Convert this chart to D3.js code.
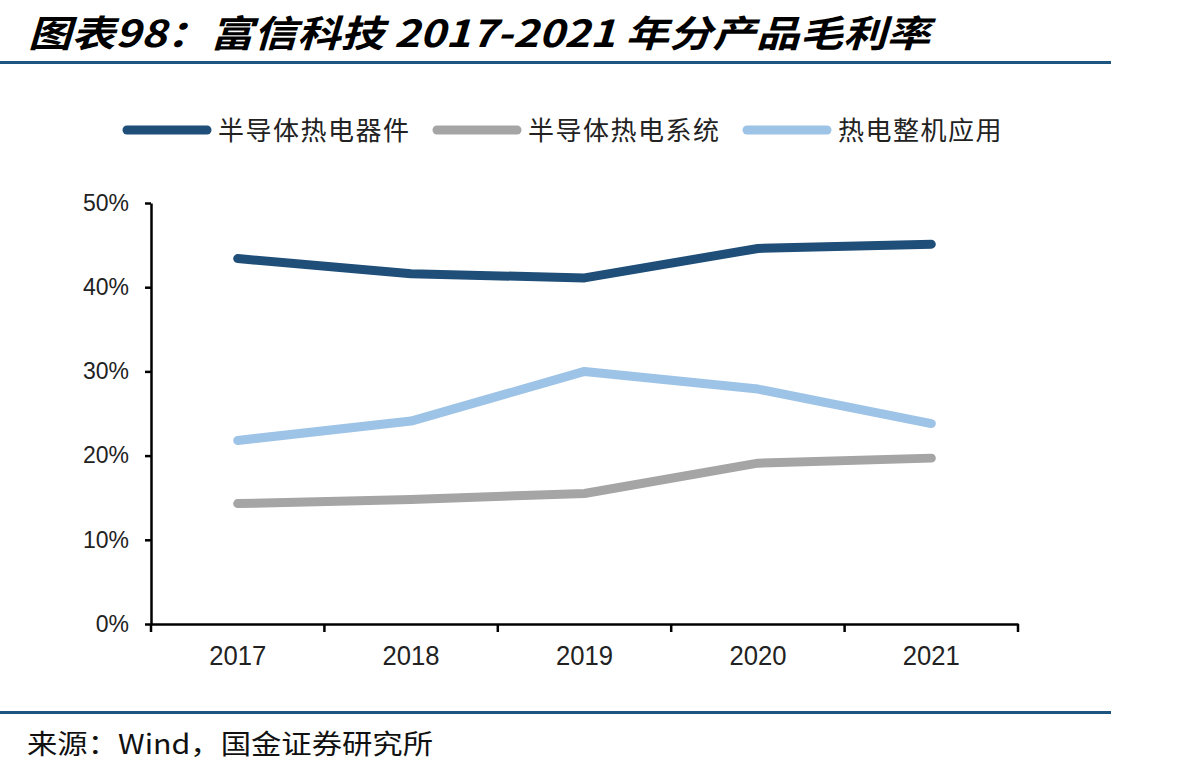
<!DOCTYPE html>
<html>
<head>
<meta charset="utf-8">
<script src="https://cdn.jsdelivr.net/npm/d3@7"></script>
<style>
  body { margin: 0; background: #fff; }
  text { font-family: "Liberation Sans", Arial, sans-serif; }
  .cjk { font-family: "Noto Sans CJK SC", sans-serif; }
  .series { fill: none; stroke-width: 9; stroke-linejoin: round; stroke-linecap: round; }
</style>
</head>
<body>
<div id="chart"></div>
<script>
var years = ["2017", "2018", "2019", "2020", "2021"];
var seriesNames = ["半导体热电器件", "半导体热电系统", "热电整机应用"];
var seriesColors = ["#1f4e79", "#a5a5a5", "#9dc3e6"];
var devices = [0.434, 0.416, 0.411, 0.446, 0.451];
var systems = [0.143, 0.148, 0.155, 0.191, 0.197];
var appliances = [0.218, 0.241, 0.300, 0.279, 0.238];
var yTicks = [0, 0.1, 0.2, 0.3, 0.4, 0.5];

var width = 1204, height = 775;
var svg = d3.select("#chart").append("svg")
  .attr("width", width).attr("height", height);

// title + rules
svg.append("text")
  .attr("class", "cjk")
  .attr("x", 28).attr("y", 47)
  .attr("font-size", 37).attr("font-weight", "bold").attr("font-style", "italic")
  .attr("textLength", 902).attr("lengthAdjust", "spacingAndGlyphs")
  .text("图表98：富信科技 2017-2021 年分产品毛利率");

svg.append("rect").attr("x", 0).attr("y", 61).attr("width", 1111).attr("height", 3).attr("fill", "#1c5680");
svg.append("rect").attr("x", 0).attr("y", 711).attr("width", 1111).attr("height", 3).attr("fill", "#1c5680");

svg.append("text")
  .attr("class", "cjk")
  .attr("x", 27).attr("y", 754)
  .attr("font-size", 27).attr("fill", "#111")
  .attr("textLength", 406).attr("lengthAdjust", "spacingAndGlyphs")
  .text("来源：Wind，国金证券研究所");

// scales
var x = d3.scaleBand().domain(years).range([151, 1018]);
var y = d3.scaleLinear().domain([0, 0.5]).range([624, 203]);

var xAxis = svg.append("g")
  .attr("transform", "translate(0,624)")
  .call(d3.axisBottom(x).tickSize(0).tickPadding(22));
xAxis.select(".domain").attr("stroke", "#000").attr("stroke-width", 2.5);
xAxis.selectAll("text").attr("font-size", 27).attr("fill", "#222")
  .attr("textLength", 57).attr("lengthAdjust", "spacingAndGlyphs");
// boundary ticks between categories
xAxis.selectAll(".bnd").data(d3.range(years.length + 1)).enter().append("line")
  .attr("x1", function(i) { return 151 + i * x.step(); })
  .attr("x2", function(i) { return 151 + i * x.step(); })
  .attr("y1", 0).attr("y2", 8)
  .attr("stroke", "#000").attr("stroke-width", 2.5);

var yAxis = svg.append("g")
  .attr("transform", "translate(151,0)")
  .call(d3.axisLeft(y).tickValues(yTicks).tickSize(8).tickSizeOuter(0).tickPadding(14)
        .tickFormat(d3.format(".0%")));
yAxis.select(".domain").attr("stroke", "#000").attr("stroke-width", 2.5);
yAxis.selectAll(".tick line").attr("stroke", "#000").attr("stroke-width", 2.5)
  .attr("x2", -6);
yAxis.selectAll("text").attr("font-size", 23).attr("fill", "#222");

// lines
var line = d3.line()
  .x(function(d, i) { return x(years[i]) + x.bandwidth() / 2; })
  .y(function(d) { return y(d); });

var allSeries = [devices, systems, appliances];
svg.selectAll(".series").data(allSeries).enter().append("path")
  .attr("class", "series")
  .attr("stroke", function(d, i) { return seriesColors[i]; })
  .attr("d", line);

// legend
var legendX = [123, 433, 743];
var lg = svg.selectAll(".lg").data(seriesNames).enter().append("g")
  .attr("transform", function(d, i) { return "translate(" + legendX[i] + ",130)"; });
lg.append("line")
  .attr("x1", 4).attr("x2", 84).attr("y1", 0).attr("y2", 0)
  .attr("stroke", function(d, i) { return seriesColors[i]; })
  .attr("stroke-width", 9).attr("stroke-linecap", "round");
lg.append("text")
  .attr("class", "cjk")
  .attr("x", 95).attr("y", 10)
  .attr("font-size", 26).attr("fill", "#222")
  .attr("letter-spacing", 1.5)
  .text(function(d) { return d; });
</script>
</body>
</html>
